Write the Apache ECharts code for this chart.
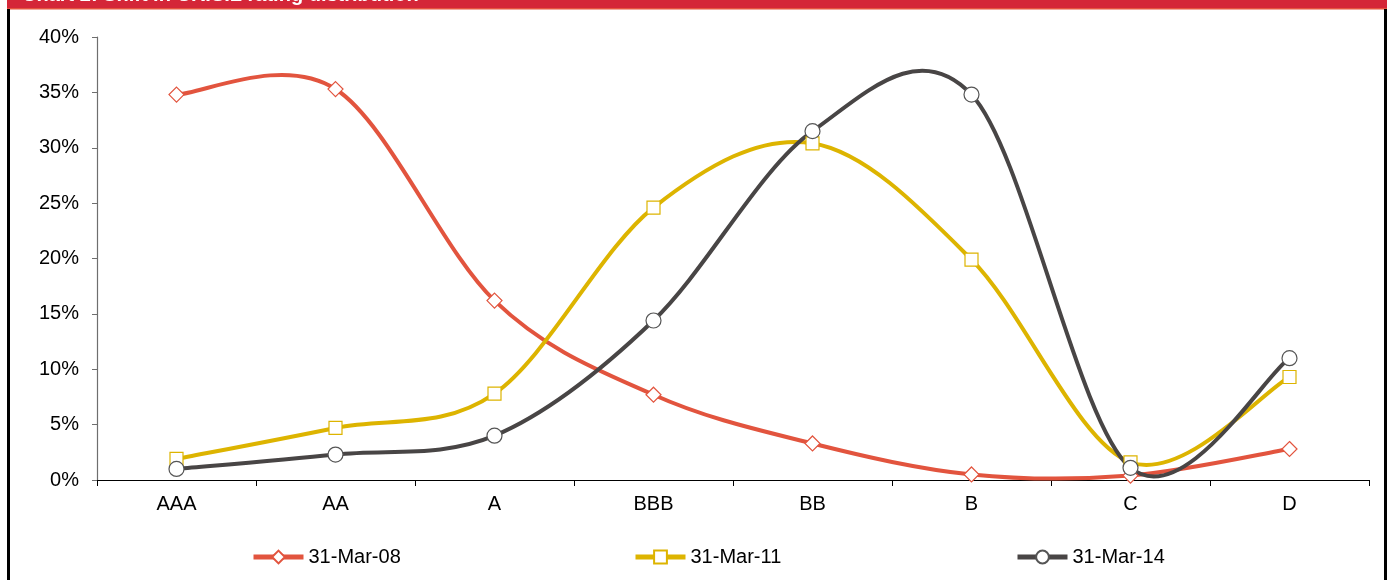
<!DOCTYPE html>
<html>
<head>
<meta charset="utf-8">
<script src="https://cdn.jsdelivr.net/npm/echarts@6/dist/echarts.min.js"></script>
<style>
  html, body { margin: 0; padding: 0; background: #fff; }
  #chart { width: 1391px; height: 580px; }
</style>
</head>
<body>
<div id="chart"></div>
<script>
const categories = ['AAA', 'AA', 'A', 'BBB', 'BB', 'B', 'C', 'D'];
const seriesNames = ['31-Mar-08', '31-Mar-11', '31-Mar-14'];
const mar08 = [34.8, 35.3, 16.2, 7.7, 3.3, 0.5, 0.4, 2.8];
const mar11 = [1.9, 4.7, 7.8, 24.6, 30.4, 19.9, 1.6, 9.3];
const mar14 = [1.0, 2.3, 4.0, 14.4, 31.5, 34.8, 1.1, 11.0];
const yTicks = [0, 5, 10, 15, 20, 25, 30, 35, 40];
const titleText = 'Chart 2: Shift in CRISIL rating distribution';

const colors = ['#E2543E', '#DDB400', '#484545'];
const symbols = ['diamond', 'rect', 'circle'];
const symbolSizes = [15, 13, 15];
const borderColors = ['#E2543E', '#DDB400', '#555555'];
const dataSets = [mar08, mar11, mar14];
const font = '"Liberation Sans", Arial, sans-serif';

const chart = echarts.init(document.getElementById('chart'), null, { renderer: 'canvas' });

// Excel-style smoothed curve (Catmull-Rom Bezier, tension 1/6), drawn through the axes' scales
function smoothRenderer(values, color) {
  return function (params, api) {
    if (params.dataIndex !== 0) return null;
    const pts = values.map((v, i) => api.coord([i, v]));
    const n = pts.length;
    const children = [];
    for (let i = 0; i < n - 1; i++) {
      const p0 = pts[Math.max(i - 1, 0)];
      const p1 = pts[i];
      const p2 = pts[i + 1];
      const p3 = pts[Math.min(i + 2, n - 1)];
      children.push({
        type: 'bezierCurve',
        shape: {
          x1: p1[0], y1: p1[1],
          cpx1: p1[0] + (p2[0] - p0[0]) / 6, cpy1: p1[1] + (p2[1] - p0[1]) / 6,
          cpx2: p2[0] - (p3[0] - p1[0]) / 6, cpy2: p2[1] - (p3[1] - p1[1]) / 6,
          x2: p2[0], y2: p2[1]
        },
        style: { stroke: color, lineWidth: 4, fill: null, lineCap: 'round', lineJoin: 'round' }
      });
    }
    return { type: 'group', children: children };
  };
}

const curveSeries = seriesNames.map((name, i) => ({
  name: 'curve-' + name,
  type: 'custom',
  data: dataSets[i].map((v, k) => [k, v]),
  renderItem: smoothRenderer(dataSets[i], colors[i]),
  z: 2 + i,
  silent: true,
  animation: false
}));

const markerSeries = seriesNames.map((name, i) => ({
  name: name,
  type: 'line',
  data: dataSets[i],
  smooth: false,
  symbol: symbols[i],
  symbolSize: symbolSizes[i],
  showAllSymbol: true,
  z: 10 + i,
  lineStyle: { color: colors[i], width: 4, opacity: 0 },
  itemStyle: { color: '#ffffff', borderColor: borderColors[i], borderWidth: 1.2 },
  emphasis: { disabled: true }
}));

const legendLefts = [246, 628, 1010];
const legends = seriesNames.map((name, i) => ({
  data: [{ name: name, lineStyle: { color: colors[i], width: 5, opacity: 1 } }],
  left: legendLefts[i],
  top: 542,
  itemWidth: 50,
  itemHeight: 16,
  textStyle: { fontFamily: font, fontSize: 20, color: '#000' },
  selectedMode: false
}));

chart.setOption({
  animation: false,
  backgroundColor: '#ffffff',
  grid: { left: 97, right: 22, top: 37, bottom: 100, containLabel: false },
  xAxis: {
    type: 'category',
    data: categories,
    boundaryGap: true,
    axisLine: { lineStyle: { color: '#000', width: 1.2 } },
    axisTick: { show: true, length: 6, lineStyle: { color: '#000' } },
    axisLabel: { fontFamily: font, fontSize: 20, color: '#000', margin: 14 },
    splitLine: { show: false }
  },
  yAxis: {
    type: 'value',
    min: yTicks[0],
    max: yTicks[yTicks.length - 1],
    interval: 5,
    axisLine: { show: true, lineStyle: { color: '#6e6e6e', width: 1.2 } },
    axisTick: { show: true, length: 5, lineStyle: { color: '#6e6e6e' } },
    axisLabel: { fontFamily: font, fontSize: 20, color: '#000', margin: 18, formatter: v => v + '%' },
    splitLine: { show: false }
  },
  legend: legends,
  series: curveSeries.concat(markerSeries),
  graphic: [
    { type: 'rect', shape: { x: 7, y: 0, width: 1380, height: 8 }, style: { fill: '#D42638' }, z: 100 },
    { type: 'rect', shape: { x: 7, y: 8, width: 1380, height: 1.5 }, style: { fill: '#E5533E' }, z: 100 },
    { type: 'text', x: 22, y: -14.5, style: { text: titleText, fill: '#ffffff', font: 'bold 20px "Liberation Sans", Arial, sans-serif' }, z: 101 },
    { type: 'rect', shape: { x: 7, y: 9, width: 3, height: 571 }, style: { fill: '#000' }, z: 100 },
    { type: 'rect', shape: { x: 1384, y: 9, width: 3, height: 571 }, style: { fill: '#000' }, z: 100 }
  ]
});
</script>
</body>
</html>
